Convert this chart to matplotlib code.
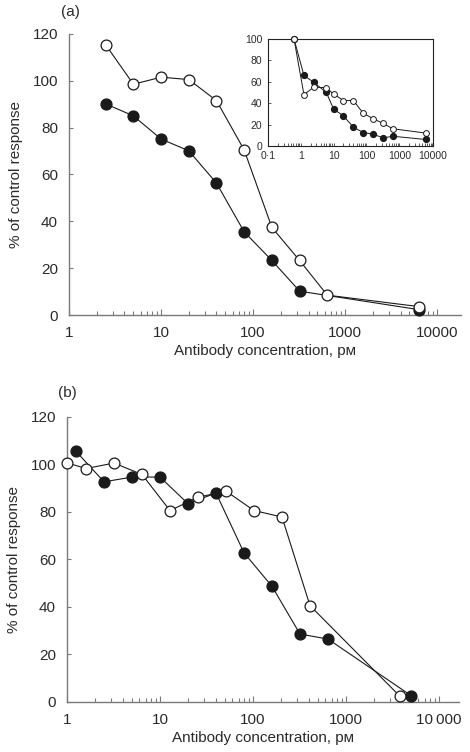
import matplotlib
matplotlib.use("Agg")
import matplotlib.pyplot as plt
from matplotlib.ticker import FixedLocator, LogLocator, NullFormatter, FixedFormatter

plt.rcParams['font.family'] = ['Liberation Sans', 'DejaVu Sans']

# ---- Panel (a) main data ----
a_x = [2.5, 5, 10, 20, 40, 80, 160, 320, 640, 6400]
a_open = [115.3, 98.5, 101.5, 100.5, 91.5, 70.4, 37.4, 23.3, 8.5, 3.6]
a_fill_x = [2.5, 5, 10, 20, 40, 80, 160, 320, 6400]
a_fill = [90.1, 85.0, 75.1, 70.1, 56.3, 35.5, 23.3, 10.2, 2.3]

# ---- Panel (a) inset data ----
in_x = [0.625, 1.25, 2.5, 6, 10, 20, 40, 80, 160, 320, 640, 6400]
in_open = [100, 48, 55, 54.5, 48.5, 42.5, 42.5, 30.5, 25.5, 21, 16, 12]
in_fill = [100, 66, 59.5, 50, 34.5, 28, 17.5, 12.5, 11, 7.5, 9, 6]

# ---- Panel (b) data ----
b_open_x = [1, 1.6, 3.2, 6.4, 12.8, 25.6, 51.2, 102.4, 204.8, 409.6, 3800]
b_open = [100.7, 98.3, 100.6, 95.8, 80.6, 86.2, 88.8, 80.6, 77.9, 40.6, 2.4]
b_fill_x = [1.25, 2.5, 5, 10, 20, 40, 80, 160, 320, 640, 5000]
b_fill = [105.5, 92.7, 94.7, 94.7, 83.5, 88.0, 62.8, 48.7, 28.6, 26.5, 2.7]

main_ticks = [1, 10, 100, 1000, 10000]
a_ticklabels = ["1", "10", "100", "1000", "10000"]
b_ticklabels = ["1", "10", "100", "1000", "10\u2009000"]
y_ticks = [0, 20, 40, 60, 80, 100, 120]
in_xticks = [0.1, 1, 10, 100, 1000, 10000]
in_xticklabels = ["0\u00b71", "1", "10", "100", "1000", "10000"]
in_yticks = [0, 20, 40, 60, 80, 100]

TXT = '#2b2b2b'
SPN = '#7a7a7a'
xlabel = "Antibody concentration, p\u1d0d"
ylabel = "% of control response"
FS = 11

fig = plt.figure(figsize=(4.70, 7.52), dpi=100)


def style_main(ax, ticklabels, xmax):
    ax.set_xscale('log')
    ax.set_xlim(1, xmax)
    ax.set_ylim(0, 120)
    for s in ['top', 'right']:
        ax.spines[s].set_visible(False)
    for s in ['left', 'bottom']:
        ax.spines[s].set_color(SPN)
        ax.spines[s].set_linewidth(1.0)
    ax.xaxis.set_major_locator(FixedLocator(main_ticks))
    ax.xaxis.set_major_formatter(FixedFormatter(ticklabels))
    ax.xaxis.set_minor_locator(LogLocator(base=10, subs=range(2, 10)))
    ax.xaxis.set_minor_formatter(NullFormatter())
    ax.set_yticks(y_ticks)
    ax.tick_params(axis='both', which='both', direction='in', colors=SPN,
                   labelcolor=TXT, labelsize=FS, width=0.8)
    ax.tick_params(axis='x', which='major', length=4, pad=8)
    ax.tick_params(axis='x', which='minor', length=3)
    ax.tick_params(axis='y', which='major', length=3, pad=8)
    ax.set_xlabel(xlabel, fontsize=FS, color=TXT, labelpad=3)
    ax.set_ylabel(ylabel, fontsize=FS, color=TXT, labelpad=7)


# Panel (a)
axa = fig.add_axes([0.147, 0.581, 0.834, 0.374])
style_main(axa, a_ticklabels, 18200)
axa.plot(a_fill_x, a_fill, '-o', color='#1a1a1a', lw=0.8, ms=7.8,
         mfc='#1a1a1a', mec='#1a1a1a', clip_on=False, zorder=3)
axa.plot(a_x, a_open, '-o', color='#1a1a1a', lw=0.8, ms=7.8,
         mfc='white', mec='#1a1a1a', mew=0.9, clip_on=False, zorder=4)
fig.text(70 / 470, 1 - 12 / 752, "(a)", ha='center', va='center',
         fontsize=FS, color=TXT)

# Inset
axi = fig.add_axes([0.570, 0.806, 0.351, 0.142])
axi.set_xscale('log')
axi.set_xlim(0.1, 10500)
axi.set_ylim(0, 100)
for s in axi.spines.values():
    s.set_color('#222222')
    s.set_linewidth(0.8)
axi.xaxis.set_major_locator(FixedLocator(in_xticks))
axi.xaxis.set_major_formatter(FixedFormatter(in_xticklabels))
axi.xaxis.set_minor_locator(LogLocator(base=10, subs=range(2, 10)))
axi.xaxis.set_minor_formatter(NullFormatter())
axi.set_yticks(in_yticks)
axi.tick_params(axis='both', which='both', direction='in', colors='#444444',
                labelcolor=TXT, labelsize=7.5, width=0.6, length=2)
axi.tick_params(axis='x', which='major', pad=4)
axi.tick_params(axis='y', which='major', pad=4)
axi.plot(in_x, in_fill, '-o', color='#1a1a1a', lw=0.7, ms=4.2,
         mfc='#1a1a1a', mec='#1a1a1a', clip_on=False, zorder=3)
axi.plot(in_x, in_open, '-o', color='#1a1a1a', lw=0.7, ms=4.2,
         mfc='white', mec='#1a1a1a', mew=0.7, clip_on=False, zorder=4)

# Panel (b)
axb = fig.add_axes([0.1426, 0.0665, 0.834, 0.379])
style_main(axb, b_ticklabels, 16400)
axb.plot(b_fill_x, b_fill, '-o', color='#1a1a1a', lw=0.8, ms=7.8,
         mfc='#1a1a1a', mec='#1a1a1a', clip_on=False, zorder=3)
axb.plot(b_open_x, b_open, '-o', color='#1a1a1a', lw=0.8, ms=7.8,
         mfc='white', mec='#1a1a1a', mew=0.9, clip_on=False, zorder=4)
fig.text(67 / 470, 1 - 393 / 752, "(b)", ha='center', va='center',
         fontsize=FS, color=TXT)

fig.savefig("out.png", dpi=100)
